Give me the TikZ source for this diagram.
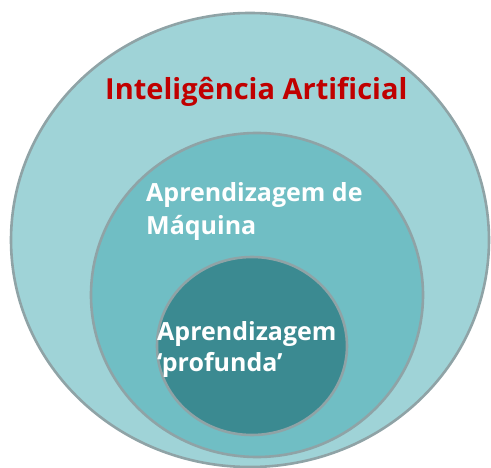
\documentclass[tikz,border=0pt]{standalone}
\usepackage{fontspec}
\setmainfont{Open Sans}
\definecolor{ringline}{HTML}{8FA3A6}
\definecolor{outerfill}{HTML}{9FD3D7}
\definecolor{midfill}{HTML}{70BEC4}
\definecolor{innerfill}{HTML}{3B8A91}
\definecolor{aired}{HTML}{C00000}
\tikzset{
  ring/.style={draw=ringline, line width=2.6pt},
  lbl/.style={anchor=base west, inner sep=0pt, font=\bfseries, align=left},
}
\begin{document}
\begin{tikzpicture}[x=1pt,y=-1pt]
\useasboundingbox (0,0) rectangle (491,468);
\fill[white] (0,0) rectangle (491,468);
\path[ring, fill=outerfill] (250,240) ellipse [x radius=239, y radius=227];
\path[ring, fill=midfill] (257,295) ellipse [x radius=166, y radius=162];
\path[ring, fill=innerfill] (252,346) ellipse [x radius=95, y radius=89];
\node[lbl, text=aired, font=\bfseries\fontsize{29}{34}\selectfont] (ai) at (105,100) {Inteligência Artificial};
\node[lbl, text=white, font=\bfseries\fontsize{25}{33}\selectfont] (ml) at (146,235) {Aprendizagem de\\Máquina};
\node[lbl, text=white, font=\bfseries\fontsize{25}{32}\selectfont] (dl) at (157,372) {Aprendizagem\\‘profunda’};
\end{tikzpicture}
\end{document}
